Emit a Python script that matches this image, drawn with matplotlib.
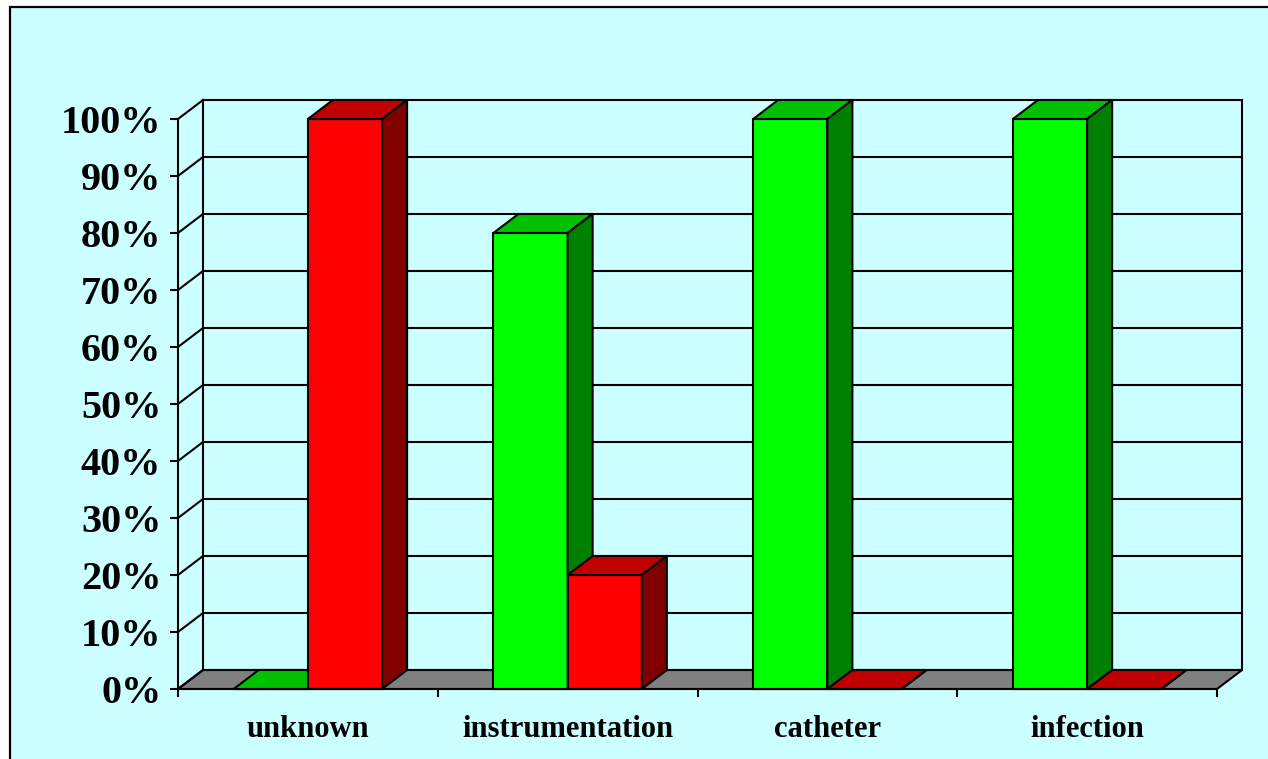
# 3D-style clustered bar chart, percent per category
import numpy as np
import matplotlib
matplotlib.use('Agg')
import matplotlib.pyplot as plt
from matplotlib.patches import Rectangle, Polygon
from matplotlib.ticker import PercentFormatter

# data
categories = ['unknown', 'instrumentation', 'catheter', 'infection']
green_vals = [0.0, 0.8, 1.0, 1.0]
red_vals = [1.0, 0.2, 0.0, 0.0]
yticks = np.arange(0, 1.01, 0.1)

# colours (front, top, side)
green_cols = ('#00FF00', '#00C000', '#008000')
red_cols = ('#FF0000', '#C00000', '#800000')
bg = '#CCFFFF'
floor_col = '#808080'

W, H = 1268, 759
fig = plt.figure(figsize=(W / 100, H / 100), dpi=100, facecolor='white')

# cyan chart area with black border (right/bottom run off the image)
fig.patches.append(Rectangle((9.5 / W, -0.05), 1.1, 1 - 6.5 / H + 0.05,
                             transform=fig.transFigure, facecolor=bg,
                             edgecolor='black', linewidth=1.6, zorder=-1))

ax = fig.add_axes([178 / W, (H - 689) / H, (1217 - 178) / W, 570 / H])
ax.set_xlim(0, len(categories))
ax.set_ylim(0, 1)
ax.patch.set_visible(False)

# depth offset of the 3D box, in data units
dx = 25 / ((1217 - 178) / len(categories))
dy = 19 / 570

lw = 1.5
n = len(categories)

# floor
ax.add_patch(Polygon([(0, 0), (n, 0), (n + dx, dy), (dx, dy)], closed=True,
                     facecolor=floor_col, edgecolor='black', lw=lw,
                     zorder=1, clip_on=False))

# back wall gridlines and left wall diagonals
for t in yticks:
    ax.plot([dx, n + dx], [t + dy, t + dy], color='black', lw=lw, zorder=1, clip_on=False)
    ax.plot([0, dx], [t, t + dy], color='black', lw=lw, zorder=1, clip_on=False)
ax.plot([dx, dx], [dy, 1 + dy], color='black', lw=lw, zorder=1, clip_on=False)
ax.plot([n + dx, n + dx], [dy, 1 + dy], color='black', lw=lw, zorder=1, clip_on=False)

# bars
bw = 1 / 3.5
gap = 0.75 / 3.5
z = 2
for i in range(n):
    for s, (vals, cols) in enumerate([(green_vals, green_cols), (red_vals, red_cols)]):
        v = vals[i]
        x0 = i + gap + s * bw
        x1 = x0 + bw
        front = [(x0, 0), (x1, 0), (x1, v), (x0, v)]
        top = [(x0, v), (x1, v), (x1 + dx, v + dy), (x0 + dx, v + dy)]
        side = [(x1, 0), (x1 + dx, dy), (x1 + dx, v + dy), (x1, v)]
        for pts, c in [(front, cols[0]), (top, cols[1]), (side, cols[2])]:
            ax.add_patch(Polygon(pts, closed=True, facecolor=c, edgecolor='black',
                                 lw=lw, zorder=z, clip_on=False))
        z += 1

# axes / ticks
for sp in ['top', 'right']:
    ax.spines[sp].set_visible(False)
ax.spines['left'].set_linewidth(lw)
ax.spines['bottom'].set_linewidth(lw)
ax.spines['left'].set_zorder(50)
ax.spines['bottom'].set_zorder(50)

tick_font = dict(family='Liberation Serif', weight='bold')
ax.set_yticks(yticks)
ax.yaxis.set_major_formatter(PercentFormatter(1.0, decimals=0))
ax.tick_params(axis='y', direction='out', length=6, width=lw, pad=6, labelsize=29)
for lab in ax.get_yticklabels():
    lab.set_fontfamily('Liberation Serif')
    lab.set_fontweight('bold')

ax.set_xticks(np.arange(n + 1))
ax.set_xticklabels([])
ax.set_xticks(np.arange(n) + 0.5, minor=True)
ax.set_xticklabels(categories, minor=True, fontsize=22, **tick_font)
ax.tick_params(axis='x', which='major', direction='out', length=6, width=lw)
ax.tick_params(axis='x', which='minor', length=0, pad=19)

fig.savefig('out.png', dpi=100, facecolor='white')
